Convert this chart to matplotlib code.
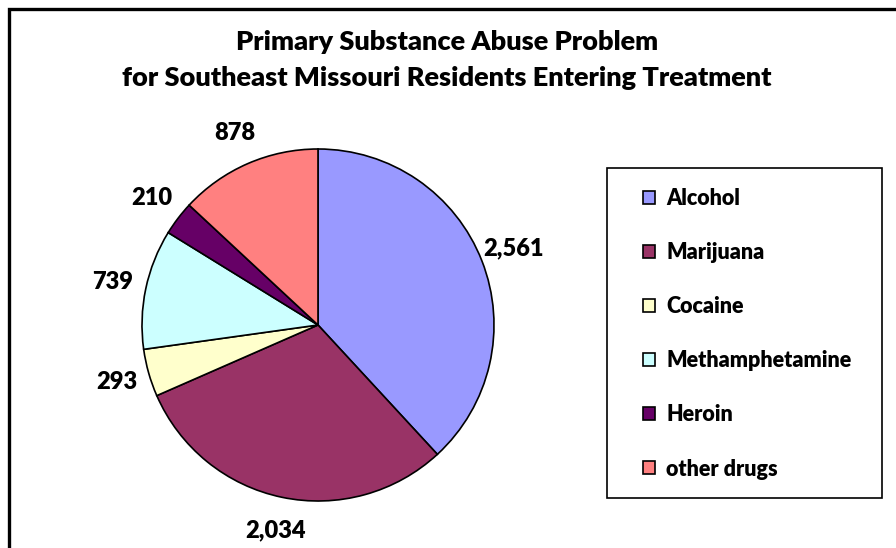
import matplotlib
matplotlib.use("Agg")
from matplotlib import pyplot as plt
from matplotlib.patches import Rectangle
import numpy as np

plt.rcParams['font.family'] = ['Lato', 'DejaVu Sans']
plt.rcParams['font.weight'] = 'heavy'

substances = ["Alcohol", "Marijuana", "Cocaine", "Methamphetamine", "Heroin", "other drugs"]
counts = np.array([2561, 2034, 293, 739, 210, 878])
colors = ["#9999FF", "#993366", "#FFFFCC", "#CCFFFF", "#660066", "#FF8080"]
value_labels = [f"{c:,}" for c in counts]

W, H = 896, 548
fig = plt.figure(figsize=(W / 100, H / 100), dpi=100)

# outer chart frame (cropped on the right and bottom)
fig.patches.append(Rectangle((8.5 / W, -0.05), 2.0, 1 - 8.5 / H + 0.05, transform=fig.transFigure,
                             fill=False, edgecolor="black", linewidth=2.4))

fig.text(447 / W, 1 - 42 / H, "Primary Substance Abuse Problem", ha="center", va="center",
         fontsize=19.5, fontweight="heavy")
fig.text(447 / W, 1 - 78 / H, "for Southeast Missouri Residents Entering Treatment", ha="center", va="center",
         fontsize=19.5, fontweight="heavy")

# pie axes: center (318, 325), radius 176 px
cx, cy, r = 318, 325, 176
ax = fig.add_axes([(cx - r) / W, (H - cy - r) / H, 2 * r / W, 2 * r / H])
wedges, texts = ax.pie(counts, colors=colors, startangle=90, counterclock=False,
                       labels=value_labels, labeldistance=1.19,
                       wedgeprops=dict(edgecolor="black", linewidth=1.2),
                       textprops=dict(fontsize=17, fontweight="heavy"))
for t in texts:
    t.set_ha("center")
ax.set_xlim(-1, 1)
ax.set_ylim(-1, 1)
ax.set_aspect("equal")

# legend box
lx0, ly0, lx1, ly1 = 607, 168, 882, 498
fig.patches.append(Rectangle((lx0 / W, 1 - ly1 / H), (lx1 - lx0) / W, (ly1 - ly0) / H,
                             transform=fig.transFigure, fill=False, edgecolor="black", linewidth=1.2))
leg = fig.legend(wedges, substances, loc="upper left", bbox_to_anchor=(632 / W, 1 - 177 / H),
                 frameon=False, prop=dict(size=15.5, weight="heavy"), labelspacing=1.54,
                 handlelength=0.55, handleheight=0.55, handletextpad=0.55, borderpad=0)
for h in leg.legend_handles:
    h.set_linewidth(1.2)

fig.savefig("out.png", dpi=100)
